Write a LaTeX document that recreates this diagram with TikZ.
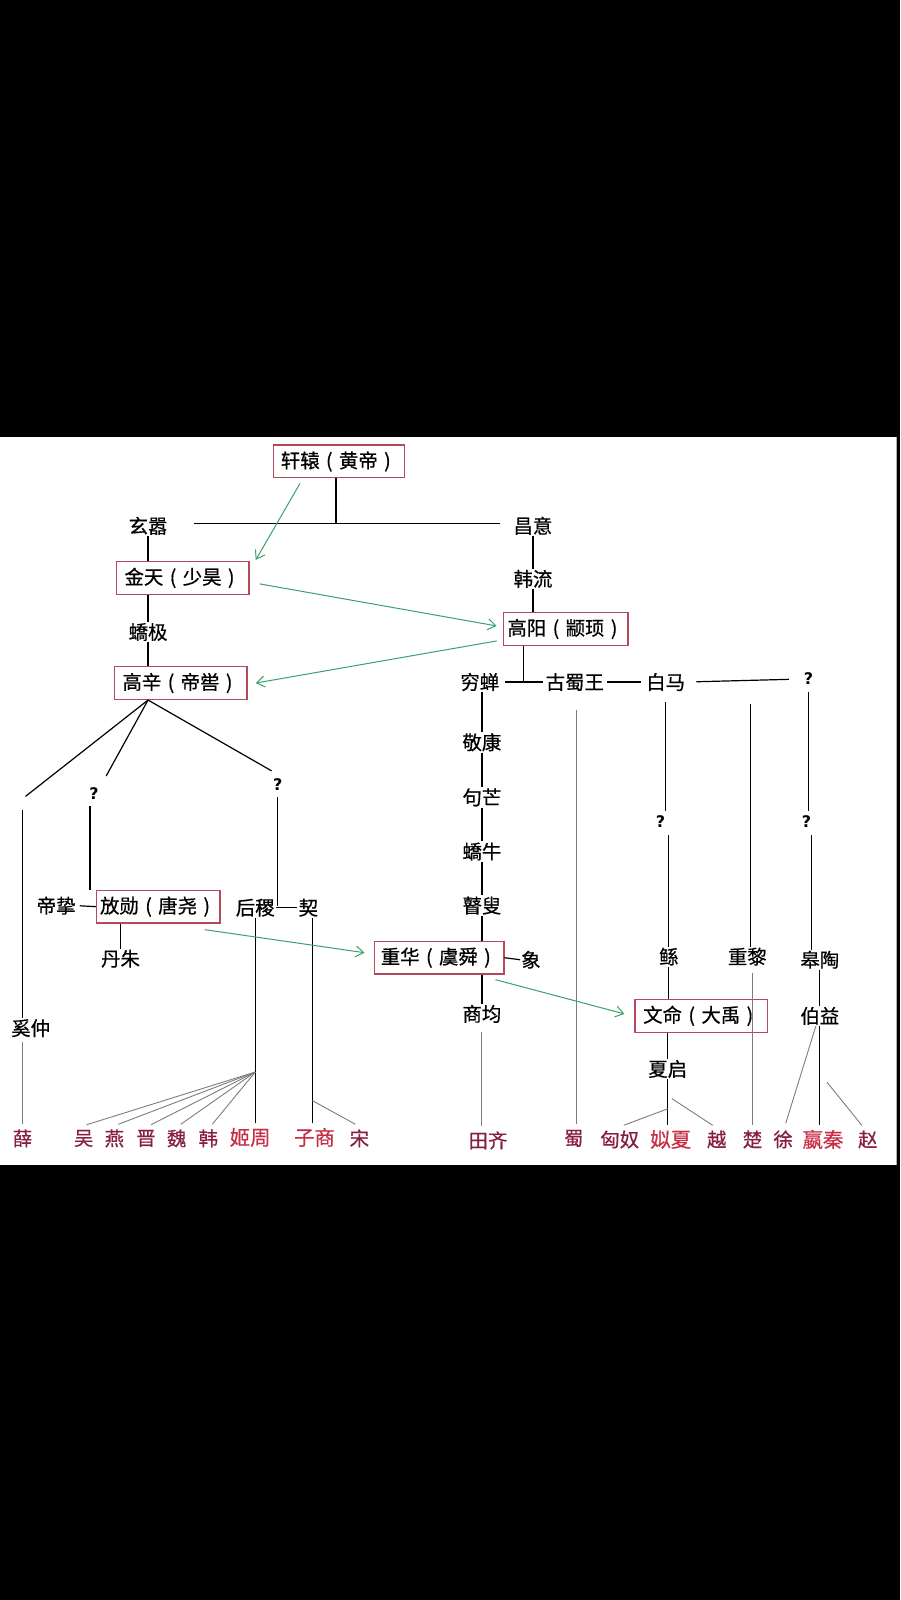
\documentclass[tikz,border=0pt]{standalone}
\usepackage{fontspec}
\newfontfamily\cjk[FakeBold=0.6]{Noto Sans CJK SC}
\newfontfamily\qfont{DejaVu Sans}
\usetikzlibrary{arrows.meta}
\definecolor{boxred}{RGB}{180,72,92}
\definecolor{darkred}{RGB}{135,30,70}
\definecolor{brightred}{RGB}{200,45,70}
\definecolor{arrowgreen}{RGB}{60,160,110}
\definecolor{thingray}{RGB}{125,125,125}
\newcommand\mylp{\makebox[1em][c]{(}}
\newcommand\myrp{\makebox[1em][c]{)}}
\begin{document}
\begin{tikzpicture}[x=1.021pt,y=-1.021pt,
 lbl/.style={inner sep=1pt,font=\cjk\fontsize{19.4}{19.4}\selectfont},
 qmark/.style={inner sep=1pt,font=\qfont\bfseries\fontsize{16}{16}\selectfont},
 box/.style={lbl,draw=boxred,line width=1.3pt,inner xsep=3pt,minimum height=32.7pt},
 bot/.style={lbl,text=darkred},
 botb/.style={inner sep=1pt,text=brightred,font=\cjk\fontsize{20.4}{20.4}\selectfont},
 link/.style={line width=1.2pt,black},
 faint/.style={line width=0.9pt,thingray},
 garrow/.style={line width=1pt,arrowgreen,-{Straight Barb[length=8pt,width=11pt]}}
]
\useasboundingbox (0,0) rectangle (881.5,1567.1);
\fill[black] (0,0) rectangle (881.5,1567.1);
\fill[white] (0,428) rectangle (878.5,1141);
\draw[line width=1pt,black!30] (878,428) -- (878,1141);

% nodes
\node[box,minimum width=130.7pt] (huangdi) at (332,452) {轩辕\mylp 黄帝\myrp};
\node[lbl] (xuanxiao) at (145,515) {玄嚣};
\node[lbl] (changyi) at (522,515) {昌意};
\node[box,minimum width=132.7pt] (jintian) at (179,566) {金天\mylp 少昊\myrp};
\node[lbl] (hanliu) at (522,567) {韩流};
\node[box,minimum width=124.6pt] (gaoyang) at (554,616) {高阳\mylp 颛顼\myrp};
\node[lbl] (jiaoji) at (145,619) {蟜极};
\node[box,minimum width=132.7pt] (gaoxin) at (177,669) {高辛\mylp 帝喾\myrp};
\node[lbl] (qiongchan) at (470,668) {穷蝉};
\node[lbl] (gushu) at (563,668) {古蜀王};
\node[lbl] (baima) at (652,668) {白马};
\node[qmark] (q1) at (792,665) {?};
\node[lbl] (jingkang) at (472,727) {敬康};
\node[lbl] (gouwang) at (472,781) {句芒};
\node[lbl] (jiaoniu) at (472,834) {蟜牛};
\node[lbl] (gusou) at (472,887) {瞽叟};
\node[qmark] (q2) at (92,777) {?};
\node[qmark] (q3) at (272,768) {?};
\node[lbl] (dizhi) at (55,887) {帝挚};
\node[box,minimum width=123.5pt] (fangxun) at (155,888) {放勋\mylp 唐尧\myrp};
\node[lbl] (houji) at (250,889) {后稷};
\node[lbl] (xie) at (302,889) {契};
\node[lbl] (danzhu) at (118,939) {丹朱};
\node[box,minimum width=129.7pt] (chonghua) at (430,938) {重华\mylp 虞舜\myrp};
\node[lbl] (xiang) at (520,940) {象};
\node[qmark] (q4) at (647,805) {?};
\node[qmark] (q5) at (790,805) {?};
\node[lbl] (gun) at (655,937) {鲧};
\node[lbl] (chongli) at (732,937) {重黎};
\node[lbl] (gaoyao) at (803,940) {皋陶};
\node[lbl] (shangjun) at (472,993) {商均};
\node[box,minimum width=132.7pt] (wenming) at (687,995) {文命\mylp 大禹\myrp};
\node[lbl] (boyi) at (803,995) {伯益};
\node[lbl] (xizhong) at (30,1007) {奚仲};
\node[lbl] (xiaqi) at (654,1047) {夏启};

\node[bot] (b_xue) at (22,1115) {薛};
\node[bot] (b_wu) at (82,1115) {吴};
\node[bot] (b_yan) at (112,1115) {燕};
\node[bot] (b_jin) at (143,1115) {晋};
\node[bot] (b_wei) at (173,1115) {魏};
\node[bot] (b_han) at (204,1115) {韩};
\node[botb] (b_jizhou) at (245,1114) {姬周};
\node[botb] (b_zishang) at (308,1114) {子商};
\node[bot] (b_song) at (352,1115) {宋};
\node[bot] (b_tianqi) at (478,1117) {田齐};
\node[bot] (b_shu) at (562,1115) {蜀};
\node[bot] (b_xiongnu) at (607,1116) {匈奴};
\node[botb] (b_sixia) at (657,1116) {姒夏};
\node[bot] (b_yue) at (702,1116) {越};
\node[bot] (b_chu) at (737,1116) {楚};
\node[bot] (b_xu) at (767,1116) {徐};
\node[botb] (b_yingqin) at (806,1116) {嬴秦};
\node[bot] (b_zhao) at (850,1116) {赵};

% junction coordinates
\coordinate (hJ) at (329,513);
\coordinate (hL) at (190,513);
\coordinate (hR) at (490,513);
\coordinate (gyJ) at (513,668);
\coordinate (clTop) at (735,690);
\coordinate (gxL) at (25,780);
\coordinate (gxM) at (104,760);
\coordinate (gxR) at (266,755);
\coordinate (xzTop) at (22,793);
\coordinate (hxJ) at (272,887);
\coordinate (fan) at (250,1050);
\coordinate (xieS) at (306,1078);
\coordinate (xqM) at (654,1086);
\coordinate (xqU) at (658,1076);
\coordinate (byZ) at (810,1060);

% black lineage lines
\draw[link] (huangdi.south -| hJ) -- (hJ);
\draw[link] (hL) -- (hR);
\draw[link] (xuanxiao.south) -- (xuanxiao.south |- jintian.north);
\draw[link] (jiaoji.north |- jintian.south) -- (jiaoji.north);
\draw[link] (jiaoji.south) -- (jiaoji.south |- gaoxin.north);
\draw[link] (changyi.south) -- (hanliu.north);
\draw[link] (hanliu.south) -- (hanliu.south |- gaoyang.north);
\draw[link] (gaoyang.south -| gyJ) -- (gyJ);
\draw[link,shorten <=5pt,shorten >=2pt] (qiongchan.east) -- (gushu.west);
\draw[link,shorten <=2pt,shorten >=4pt] (gushu.east) -- (baima.west);
\draw[link,shorten <=10pt,shorten >=14pt] (baima.east) -- (q1.west);
\draw[link] (jingkang.north |- qiongchan.south) -- (jingkang.north);
\draw[link] (jingkang.south) -- (gouwang.north);
\draw[link] (gouwang.south) -- (jiaoniu.north);
\draw[link] (jiaoniu.south) -- (gusou.north);
\draw[link] (gusou.south) -- (gusou.south |- chonghua.north);
\draw[link] (chonghua.east) -- (xiang.west);
\draw[link] (shangjun.north |- chonghua.south) -- (shangjun.north);
\draw[link,shorten <=10pt,shorten >=4pt] (baima.south) -- (baima.south |- q4.north);
\draw[link,shorten <=6pt] (gun.north |- q4.south) -- (gun.north);
\draw[link] (gun.south) -- (gun.south |- wenming.north);
\draw[link] (xiaqi.north |- wenming.south) -- (xiaqi.north);
\draw[link,shorten >=4pt] (xiaqi.south) -- (xiaqi.south |- b_sixia.north);
\draw[link] (clTop) -- (clTop |- chongli.north);
\draw[link,shorten <=6pt,shorten >=4pt] (q1.south) -- (q1.south |- q5.north);
\draw[link,shorten <=6pt] ([xshift=5pt]q5.south) -- ([xshift=5pt]q5.south |- gaoyao.north);
\draw[link] (gaoyao.south) -- (boyi.north);
\draw[link,shorten >=4pt] (boyi.south) -- (boyi.south |- b_yingqin.north);

\draw[link] (gaoxin.south -| jiaoji.south) -- (gxL);
\draw[link] (gaoxin.south -| jiaoji.south) -- (gxM);
\draw[link] (gaoxin.south -| jiaoji.south) -- (gxR);
\draw[link] (xzTop) -- (xzTop |- xizhong.north);
\draw[link,shorten <=6pt] ([xshift=-4pt]q2.south) -- ([xshift=-4pt]q2.south |- fangxun.north);
\draw[link,shorten <=3pt] (dizhi.east) -- (fangxun.west);
\draw[link] (danzhu.north |- fangxun.south) -- (danzhu.north);
\draw[link,shorten <=6pt] (q3.south) -- (hxJ);
\draw[link] (houji.east) -- (xie.west);
\draw[link,shorten >=4pt] (houji.south) -- (houji.south |- b_jizhou.north);
\draw[link,shorten >=4pt] ([xshift=4pt]xie.south) -- ([xshift=4pt]xie.south |- b_zishang.north);

% grey lines to the states
\draw[faint,shorten <=4pt,shorten >=4pt] (b_xue.north |- xizhong.south) -- (b_xue.north);
\draw[faint] (fan) -- ([xshift=3pt,yshift=4pt]b_wu.north);
\draw[faint] (fan) -- ([xshift=4pt,yshift=4pt]b_yan.north);
\draw[faint] (fan) -- ([xshift=5pt,yshift=4pt]b_jin.north);
\draw[faint] (fan) -- ([xshift=4pt,yshift=4pt]b_wei.north);
\draw[faint] (fan) -- ([xshift=4pt,yshift=4pt]b_han.north);
\draw[faint] (xieS) -- ([xshift=-4pt,yshift=4pt]b_song.north);
\draw[faint,shorten <=8pt,shorten >=4pt] (shangjun.south) -- (shangjun.south |- b_tianqi.north);
\draw[faint,shorten <=18pt,shorten >=5pt] ([xshift=2pt]gushu.south) -- ([xshift=2pt]gushu.south |- b_shu.north);
\draw[faint] (xqM) -- ([xshift=4pt,yshift=4pt]b_xiongnu.north);
\draw[faint] (xqU) -- ([xshift=-4pt,yshift=4pt]b_yue.north);
\draw[faint,shorten <=6pt,shorten >=4pt] (b_chu.north |- chongli.south) -- (b_chu.north);
\draw[faint,shorten >=2pt] ([xshift=-4pt]boyi.south) -- ([xshift=2pt,yshift=4pt]b_xu.north);
\draw[faint] (byZ) -- ([xshift=-6pt,yshift=4pt]b_zhao.north);

% green succession arrows
\draw[garrow] ([xshift=27pt,yshift=-5pt]huangdi.south west) -- ([xshift=6pt,yshift=1pt]jintian.north east);
\draw[garrow] ([xshift=10pt,yshift=-6pt]jintian.east) -- ([xshift=-6pt,yshift=3pt]gaoyang.west);
\draw[garrow] ([xshift=-6pt,yshift=-12pt]gaoyang.west) -- ([xshift=8pt]gaoxin.east);
\draw[garrow] ([xshift=-16pt,yshift=-6pt]fangxun.south east) -- ([xshift=-9pt,yshift=5pt]chonghua.west);
\draw[garrow] ([xshift=-9pt,yshift=-5pt]chonghua.south east) -- ([xshift=-10pt,yshift=2pt]wenming.west);
\end{tikzpicture}
\end{document}
